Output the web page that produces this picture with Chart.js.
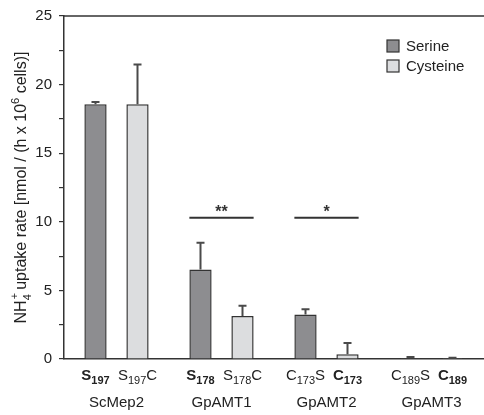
<!DOCTYPE html>
<html><head><meta charset="utf-8">
<script src="https://cdn.jsdelivr.net/npm/chart.js@4/dist/chart.umd.min.js"></script>
<style>html,body{margin:0;padding:0;background:#fff;}#wrap{width:484px;height:415px;}</style>
</head><body><div id="wrap"><canvas id="c" width="484" height="415"></canvas></div>
<script>
const groups = ['ScMep2', 'GpAMT1', 'GpAMT2', 'GpAMT3'];
const seriesNames = ['Serine', 'Cysteine'];
const serine = [18.56, 6.53, 3.24, 0.05];
const serineErr = [0.17, 1.94, 0.39, 0.09];
const cysteine = [18.56, 3.14, 0.34, 0.05];
const cysteineErr = [2.91, 0.75, 0.82, 0.04];
const yTicks = [0, 5, 10, 15, 20, 25];
// sample labels: base letter, subscript, suffix, bold
const serineLabels = [['S','197','',true],['S','178','',true],['C','173','S',false],['C','189','S',false]];
const cysteineLabels = [['S','197','C',false],['S','178','C',false],['C','173','',true],['C','189','',true]];
const sigGroups = [1, 2];
const sigMarks = ['**', '*'];
const sigLevel = [10.3, 10.3];

const FONT = '"Liberation Sans", Arial, sans-serif';
const colors = ['#8d8d90', '#dcdddf'];
const errs = [serineErr, cysteineErr];

function drawSub(ctx, x, y, lab) {
  const [b, s, e, bold] = lab;
  const w = bold ? 'bold ' : '';
  const big = w + '15px ' + FONT, small = w + '11px ' + FONT;
  ctx.font = big; const wb = ctx.measureText(b).width;
  ctx.font = small; const ws = ctx.measureText(s).width;
  ctx.font = big; const we = ctx.measureText(e).width;
  let cx = x - (wb + ws + we) / 2;
  ctx.textAlign = 'left'; ctx.textBaseline = 'alphabetic';
  ctx.font = big; ctx.fillText(b, cx, y); cx += wb;
  ctx.font = small; ctx.fillText(s, cx, y + 4); cx += ws;
  ctx.font = big; ctx.fillText(e, cx, y);
}

const deco = {
  id: 'deco',
  afterDatasetsDraw(chart) {
    const ctx = chart.ctx, ys = chart.scales.y, ca = chart.chartArea;
    ctx.save();
    // error bars
    for (let d = 0; d < 2; d++) {
      const meta = chart.getDatasetMeta(d);
      meta.data.forEach((bar, i) => {
        const v = chart.data.datasets[d].data[i];
        const yt = ys.getPixelForValue(v + errs[d][i]);
        const y0 = ys.getPixelForValue(v);
        ctx.strokeStyle = '#4a4a4a'; ctx.lineWidth = 2;
        ctx.beginPath(); ctx.moveTo(bar.x, y0); ctx.lineTo(bar.x, yt);
        ctx.moveTo(bar.x - 4, yt); ctx.lineTo(bar.x + 4, yt); ctx.stroke();
      });
    }
    // top border
    ctx.strokeStyle = '#333'; ctx.lineWidth = 1.5;
    ctx.beginPath(); ctx.moveTo(ca.left, ca.top); ctx.lineTo(chart.width, ca.top); ctx.stroke();
    // significance
    sigGroups.forEach((g, k) => {
      const b0 = chart.getDatasetMeta(0).data[g], b1 = chart.getDatasetMeta(1).data[g];
      const x0 = b0.x - b0.width / 2, x1 = b1.x + b1.width / 2;
      const yy = ys.getPixelForValue(sigLevel[k]);
      ctx.strokeStyle = '#333'; ctx.lineWidth = 2;
      ctx.beginPath(); ctx.moveTo(x0, yy); ctx.lineTo(x1, yy); ctx.stroke();
      ctx.fillStyle = '#333'; ctx.font = 'bold 16px ' + FONT;
      ctx.textAlign = 'center'; ctx.textBaseline = 'alphabetic';
      ctx.fillText(sigMarks[k], (x0 + x1) / 2, yy - 1);
    });
    // sample labels & group labels
    ctx.fillStyle = '#222';
    const labs = [serineLabels, cysteineLabels];
    for (let d = 0; d < 2; d++) {
      chart.getDatasetMeta(d).data.forEach((bar, i) => drawSub(ctx, bar.x, ca.bottom + 21, labs[d][i]));
    }
    const xs = chart.scales.x;
    ctx.font = '15px ' + FONT; ctx.textAlign = 'center';
    groups.forEach((g, i) => ctx.fillText(g, xs.getPixelForValue(i), ca.bottom + 48));
    // legend
    seriesNames.forEach((n, i) => {
      const ly = 40 + i * 20;
      ctx.fillStyle = colors[i]; ctx.fillRect(387, ly, 12, 12);
      ctx.strokeStyle = '#333'; ctx.lineWidth = 1.2; ctx.strokeRect(387, ly, 12, 12);
      ctx.fillStyle = '#222'; ctx.font = '15px ' + FONT; ctx.textAlign = 'left'; ctx.textBaseline = 'middle';
      ctx.fillText(n, 406, ly + 6.5);
    });
    // y title with sub/superscripts
    const segs = [['NH', 0, 16], ['4', 5, 11, '+'], [' uptake rate [nmol / (h x 10', 0, 16], ['6', -7, 11], [' cells)]', 0, 16]];
    let tw = 0;
    segs.forEach(s => { ctx.font = s[2] + 'px ' + FONT; tw += ctx.measureText(s[0]).width; });
    ctx.translate(26, (ca.top + ca.bottom) / 2); ctx.rotate(-Math.PI / 2);
    let cx = -tw / 2; ctx.textAlign = 'left'; ctx.textBaseline = 'alphabetic'; ctx.fillStyle = '#222';
    segs.forEach(s => {
      ctx.font = s[2] + 'px ' + FONT; ctx.fillText(s[0], cx, s[1]);
      if (s[3]) ctx.fillText(s[3], cx + 1, -8);
      cx += ctx.measureText(s[0]).width;
    });
    ctx.restore();
  }
};

new Chart(document.getElementById('c'), {
  type: 'bar',
  data: {
    labels: groups,
    datasets: [
      { label: seriesNames[0], data: serine, backgroundColor: colors[0], borderColor: '#333', borderWidth: 1.5, barPercentage: 0.53, categoryPercentage: 0.8 },
      { label: seriesNames[1], data: cysteine, backgroundColor: colors[1], borderColor: '#333', borderWidth: 1.5, barPercentage: 0.53, categoryPercentage: 0.8 }
    ]
  },
  options: {
    responsive: false, animation: false,
    layout: { padding: { left: 0, right: 0, top: 9, bottom: 56 } },
    plugins: { legend: { display: false }, tooltip: { enabled: false } },
    scales: {
      x: { grid: { display: false, drawTicks: false }, border: { color: '#333', width: 1.5 }, ticks: { display: false } },
      y: {
        min: 0, max: 25,
        afterBuildTicks: ax => { const t = []; for (let v = 0; v <= 25; v += 2.5) t.push({ value: v }); ax.ticks = t; },
        afterFit: ax => { ax.width = 64; },
        ticks: { color: '#222', font: { family: FONT, size: 15 }, padding: 7,
          callback: v => yTicks.includes(v) ? String(v) : '' },
        grid: { drawOnChartArea: false, tickLength: 5, color: '#333', lineWidth: 1.2 },
        border: { color: '#333', width: 1.5 }
      }
    }
  },
  plugins: [deco]
});
</script></body></html>
